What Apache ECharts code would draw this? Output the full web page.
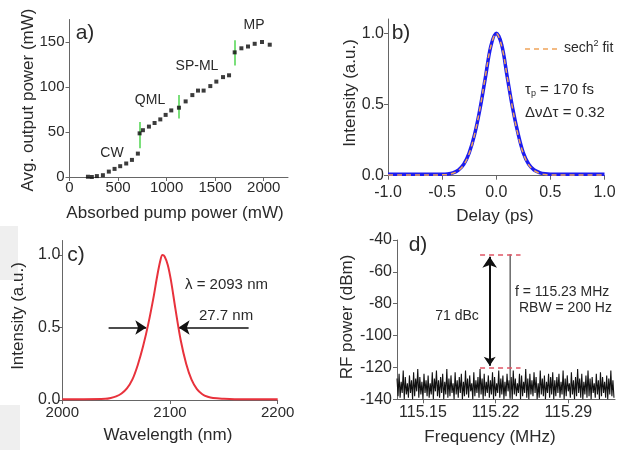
<!DOCTYPE html>
<html>
<head>
<meta charset="utf-8">
<script src="https://cdn.jsdelivr.net/npm/echarts@6/dist/echarts.min.js"></script>
<style>html,body{margin:0;padding:0;background:#fff}#c{width:624px;height:450px}</style>
</head>
<body>
<div id="c"></div>
<script>
// ---------- data ----------
// a) output power vs absorbed pump power
const aPumpPower   = [190,230,282,344,405,464,522,584,643,704,722,756,818,876,935,990,1048,1127,1196,1265,1323,1381,1450,1512,1581,1643,1701,1770,1838,1907,1982,2062];
const aOutputPower = [0.3,0,1,2,6,9,12,15,19,26,48.5,52,56,60,64,69,74,77,84,91,96,96,101,106,111,113,138.5,143,145,148,150,147];
const aErrX    = [722,1127,1701];
const aErrLow  = [32,65,124];
const aErrHigh = [61,91,152];
const aLabels  = ['CW','QML','SP-ML','MP'];
const aXTicks  = [0,500,1000,1500,2000];
const aYTicks  = [0,50,100,150];

// b) autocorrelation
const bDelay     = [-1.0,-0.9,-0.8,-0.7,-0.6,-0.5,-0.45,-0.4,-0.35,-0.3,-0.25,-0.2,-0.15,-0.1,-0.05,0,0.05,0.1,0.15,0.2,0.25,0.3,0.35,0.4,0.45,0.5,0.6,0.7,0.8,0.9,1.0];
const bIntensity = [0.01,0.01,0.01,0.01,0.01,0.01,0.012,0.02,0.04,0.08,0.16,0.29,0.47,0.69,0.91,1.0,0.92,0.70,0.48,0.30,0.16,0.08,0.04,0.022,0.013,0.01,0.01,0.01,0.01,0.01,0.01];
const bFit       = [0.005,0.005,0.005,0.005,0.005,0.006,0.008,0.017,0.036,0.076,0.155,0.29,0.475,0.70,0.91,1.0,0.91,0.70,0.475,0.29,0.155,0.076,0.036,0.017,0.008,0.006,0.005,0.005,0.005,0.005,0.005];
const bXTicks = [-1.0,-0.5,0.0,0.5,1.0];
const bYTicks = [0,0.5,1.0];

// c) spectrum
const cWavelength = [2000,2020,2040,2045,2050,2055,2060,2065,2070,2075,2080,2085,2088,2091,2093,2095,2098,2101,2105,2110,2115,2120,2125,2130,2135,2140,2150,2160,2180,2200];
const cIntensity  = [0.006,0.006,0.008,0.014,0.025,0.045,0.08,0.14,0.24,0.37,0.53,0.72,0.85,0.96,1.0,0.99,0.93,0.82,0.63,0.41,0.25,0.14,0.075,0.04,0.022,0.013,0.008,0.006,0.006,0.006];
const cArrowLeft  = [2043,2078];
const cArrowRight = [2173,2108];
const cArrowLevel = 0.5;
const cXTicks = [2000,2100,2200];
const cYTicks = [0,0.5,1.0];

// d) RF spectrum
const dFreqStart = 115.125, dFreqStep = 0.001;
const dNoise = [
-127,-138,-124,-139,-129,-136,-122,-140,-126,-137,-130,-139,-125,-136,-128,-140,-123,-138,-127,-135,-121,-139,-126,-137,-129,-140,-124,-136,-128,-138,
-125,-139,-130,-137,-123,-140,-127,-135,-122,-138,-128,-139,-126,-136,-124,-140,-129,-137,-121,-139,-127,-138,-125,-136,-130,-140,-123,-137,-128,-139,
-126,-136,-124,-140,-129,-138,-122,-137,-127,-139,-125,-135,-130,-140,-123,-138,-128,-136,-126,-139,-121,-137,-127,-140,-124,-138,-129,-136,-125,-139,
-128,-137,-123,-140,-126,-138,-130,-136,-122,-139,-127,-137,-125,-140,-129,-138,-124,-135,-128,-139,-126,-140,-122,-137,-127,-138,-130,-136,-124,-140,
-125,-138,-129,-136,-121,-139,-127,-140,-124,-137,-128,-138,-123,-136,-126,-140,-130,-139,-122,-137,-127,-138,-125,-140,-129,-136,-124,-139,-126,-137,
-123,-140,-128,-138,-126,-136,-124,-139,-129,-137,-122,-140,-127,-138,-125,-135,-130,-139,-123,-137,-128,-140,-126,-138,-121,-136,-127,-139,-124,-140,
-129,-137,-125,-139,-122,-138,-127,-140,-126,-136,-130,-139,-124,-137,-128,-140,-123,-138,-126,-136,-129,-139,-125,-140,-127,-137,-122,-138,-128,-139];
const dPeakFreq = 115.234, dPeakPower = -49, dFloor = -140;
const dRefLevel = -120.5;
const dRefSpan = [115.205,115.244];
const dArrowFreq = 115.2143, dArrowTop = -50.5, dArrowBottom = -119;
const dXTicks = [115.15,115.22,115.29];
const dYTicks = [-140,-120,-100,-80,-60,-40];

// ---------- chart ----------
const FONT = '"Liberation Sans", Arial, sans-serif';
const TXT = '#2a2a2a';
const AX = '#666';

function mkAxis(o){
  return {
    type:'value', gridIndex:o.g, min:o.min, max:o.max,
    axisLine:{show:true, onZero:false, lineStyle:{color:AX, width:1}},
    axisTick:{show:true, length:4, customValues:o.ticks, lineStyle:{color:AX}},
    axisLabel:{customValues:o.ticks, formatter:o.fmt, fontSize:o.fs||15, color:TXT, margin:o.margin, fontFamily:FONT},
    splitLine:{show:false}, minorTick:{show:false}
  };
}
const chart = echarts.init(document.getElementById('c'), null, {renderer:'canvas'});

const grids = [
  {left:69.5, top:19.5, width:218.5, height:157.5, outerBoundsMode:'none'},
  {left:388, top:19, width:216.5, height:156.7, outerBoundsMode:'none'},
  {left:62.3, top:240.5, width:215.4, height:159.5, outerBoundsMode:'none'},
  {left:397, top:240, width:218, height:159.3, outerBoundsMode:'none'}
];
const xAxes = [
  mkAxis({g:0,min:0,max:2250,ticks:aXTicks,fmt:v=>String(v),margin:3}),
  mkAxis({g:1,min:-1,max:1,ticks:bXTicks,fmt:v=>v.toFixed(1),margin:9,fs:16}),
  mkAxis({g:2,min:2000,max:2200,ticks:cXTicks,fmt:v=>String(v),margin:5}),
  mkAxis({g:3,min:115.125,max:115.335,ticks:dXTicks,fmt:v=>v.toFixed(2),margin:5,fs:16})
];
const yAxes = [
  mkAxis({g:0,min:0,max:175,ticks:aYTicks,fmt:v=>String(v),margin:5}),
  mkAxis({g:1,min:0,max:1.1,ticks:bYTicks,fmt:v=>v.toFixed(1),margin:4,fs:16}),
  mkAxis({g:2,min:0,max:1.1,ticks:cYTicks,fmt:v=>v.toFixed(1),margin:2,fs:16}),
  mkAxis({g:3,min:-140,max:-40,ticks:dYTicks,fmt:v=>String(v),margin:5,fs:16})
];

const series = [
  // a
  {type:'lines', coordinateSystem:'cartesian2d', xAxisIndex:0, yAxisIndex:0, z:2, silent:true,
   data:aErrX.map((x,i)=>({coords:[[x,aErrLow[i]],[x,aErrHigh[i]]]})),
   lineStyle:{color:'#5ad85a', width:1.6, opacity:1}, symbol:'none'},
  {type:'scatter', xAxisIndex:0, yAxisIndex:0, z:3, symbol:'rect', symbolSize:4,
   data:aPumpPower.map((x,i)=>[x,aOutputPower[i]]), itemStyle:{color:'#0a0a0a'}},
  // b
  {type:'line', xAxisIndex:1, yAxisIndex:1, smooth:0.35, showSymbol:false, z:2,
   data:bDelay.map((x,i)=>[x,bIntensity[i]]), lineStyle:{color:'#1c1cf0', width:3.5}},
  {type:'line', xAxisIndex:1, yAxisIndex:1, smooth:0.35, showSymbol:false, z:3,
   data:bDelay.map((x,i)=>[x,bFit[i]]), lineStyle:{color:'#f0a45a', width:1.5, type:[5,4]}},
  // c
  {type:'line', xAxisIndex:2, yAxisIndex:2, smooth:0.35, showSymbol:false,
   data:cWavelength.map((x,i)=>[x,cIntensity[i]]), lineStyle:{color:'#e8323c', width:2}},
  {type:'lines', coordinateSystem:'cartesian2d', xAxisIndex:2, yAxisIndex:2, silent:true,
   data:[{coords:[[cArrowLeft[0],cArrowLevel],[cArrowLeft[1],cArrowLevel]]},
         {coords:[[cArrowRight[0],cArrowLevel],[cArrowRight[1],cArrowLevel]]}],
   symbol:['none','arrow'], symbolSize:[9,11], lineStyle:{color:'#111', width:1.5, opacity:1}},
  // d
  {type:'line', xAxisIndex:3, yAxisIndex:3, showSymbol:false, z:2,
   data:dNoise.map((v,i)=>[dFreqStart+i*dFreqStep, v]), lineStyle:{color:'#111', width:1.1}},
  {type:'line', xAxisIndex:3, yAxisIndex:3, showSymbol:false, z:3,
   data:[[dPeakFreq,dFloor],[dPeakFreq,dPeakPower]], lineStyle:{color:'#444', width:1.2}},
  {type:'lines', coordinateSystem:'cartesian2d', xAxisIndex:3, yAxisIndex:3, z:4, silent:true,
   data:[{coords:[[dRefSpan[0],dPeakPower],[dRefSpan[1],dPeakPower]]},
         {coords:[[dRefSpan[0],dRefLevel],[dRefSpan[1],dRefLevel]]}],
   symbol:'none', lineStyle:{color:'#e05565', width:1.5, type:[5,4], opacity:1}},
  {type:'lines', coordinateSystem:'cartesian2d', xAxisIndex:3, yAxisIndex:3, z:5, silent:true,
   data:[{coords:[[dArrowFreq,dArrowBottom],[dArrowFreq,dArrowTop]]}],
   symbol:['arrow','arrow'], symbolSize:[9,11], lineStyle:{color:'#111', width:2, opacity:1}}
];

function txt(x,y,text,fs,opt){
  opt = opt||{};
  return {type:'text', x:x, y:y, rotation:opt.rot||0, z:10,
    style:{text:text, fontSize:fs, fontFamily:FONT, fill:TXT, align:opt.align||'center', verticalAlign:'middle', rich:opt.rich}};
}
const R = Math.PI/2;
const graphic = [
  {type:'rect', shape:{x:0,y:226,width:18,height:54}, style:{fill:'#efefef'}, z:0},
  {type:'rect', shape:{x:0,y:405,width:20,height:45}, style:{fill:'#efefef'}, z:0},
  // axis titles
  txt(28,100,'Avg. output power (mW)',17,{rot:R}),
  txt(175,213,'Absorbed pump power (mW)',17),
  txt(350,93,'Intensity (a.u.)',17,{rot:R}),
  txt(495,216,'Delay (ps)',17),
  txt(18,316,'Intensity (a.u.)',17,{rot:R}),
  txt(168,435,'Wavelength (nm)',17),
  txt(347,317,'RF power (dBm)',17,{rot:R}),
  txt(490,437,'Frequency (MHz)',17),
  // panel letters
  txt(85,33,'a)',21), txt(401,33,'b)',21), txt(76,255,'c)',21), txt(418,245,'d)',21),
  // a annotations
  txt(112,153,aLabels[0],14), txt(150,100,aLabels[1],14), txt(197,66,aLabels[2],14), txt(254,25,aLabels[3],14),
  // b annotations
  {type:'line', shape:{x1:525,y1:49,x2:560,y2:49}, style:{stroke:'#f0a45a', lineWidth:1.5, lineDash:[5,4]}, z:10},
  txt(564,48,'{a|sech}{s|2}{a| fit}',14,{align:'left',rich:{a:{fontSize:14,fontFamily:FONT,fill:TXT},s:{fontSize:9,fontFamily:FONT,fill:TXT,padding:[0,0,8,0]}}}),
  txt(525,90,'{a|τ}{p|p}{a| = 170 fs}',15,{align:'left',rich:{a:{fontSize:15,fontFamily:FONT,fill:TXT},p:{fontSize:9,fontFamily:FONT,fill:TXT,padding:[8,0,0,0]}}}),
  txt(525,113,'ΔνΔτ = 0.32',15,{align:'left'}),
  // c annotations
  txt(185,285,'λ = 2093 nm',15,{align:'left'}),
  txt(199,316,'27.7 nm',15,{align:'left'}),
  // d annotations
  txt(457,316,'71 dBc',14),
  txt(515,292,'f = 115.23 MHz',14,{align:'left'}),
  txt(519,308,'RBW = 200 Hz',14,{align:'left'})
];

chart.setOption({
  animation:false,
  backgroundColor:'#fff',
  grid:grids, xAxis:xAxes, yAxis:yAxes, series:series, graphic:graphic
});
</script>
</body>
</html>
